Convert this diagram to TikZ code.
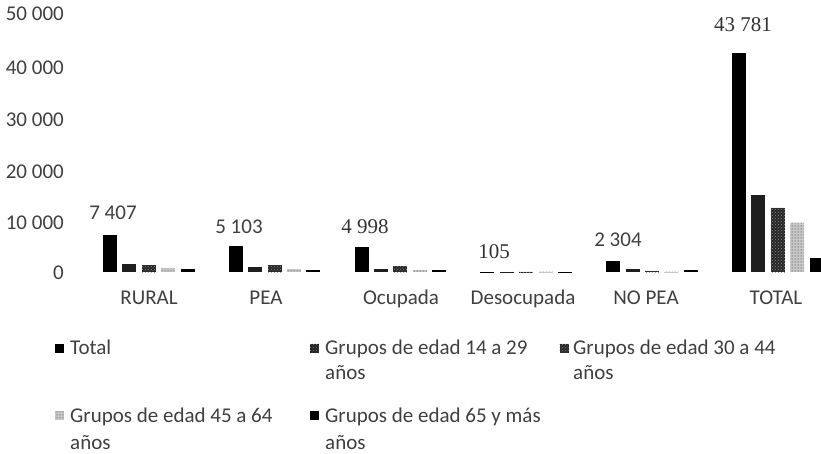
\documentclass[tikz,border=0pt]{standalone}
\usepackage{fontspec}
\setmainfont{Carlito}
\newfontfamily\serifnum{Liberation Serif}
\usetikzlibrary{patterns}
\begin{document}
\begin{tikzpicture}[x=1pt,y=-1pt,
  txt/.style={font=\fontsize{21}{25}\selectfont, inner sep=0pt, text=black!75},
  stxt/.style={font=\fontsize{21}{25}\selectfont\serifnum, inner sep=0pt, text=black!80},
  ylab/.style={txt, anchor=base east},
  cat/.style={txt, anchor=base},
  dlab/.style={txt, anchor=base},
  sdlab/.style={stxt, anchor=base},
  leg/.style={txt, anchor=base west},
  bT/.style={fill=black},
  bA/.style={fill=black!88},
  bB/.style={preaction={fill=black!85}, pattern=crosshatch dots, pattern color=black!45},
  bC/.style={preaction={fill=black!22}, pattern=dots, pattern color=black!85},
  bD/.style={fill=black},
  mk/.style={minimum size=9pt, inner sep=0pt, draw=none}
]
\useasboundingbox (0,0) rectangle (821,454);
\fill[white] (0,0) rectangle (821,454);

% y axis labels
\node[ylab] (y50) at (64,20.5) {50 000};
\node[ylab] (y40) at (64,74.5) {40 000};
\node[ylab] (y30) at (64,126.5) {30 000};
\node[ylab] (y20) at (64,178.5) {20 000};
\node[ylab] (y10) at (64,229.5) {10 000};
\node[ylab] (y0)  at (64,279.5) {0};

% bars
\foreach \i/\a/\b/\c/\d/\e in {0/37/8/7/4/3, 1/25.5/5/7/3/2, 2/25/3/6/2/2,
   3/0.3/0.2/0.2/0.1/0.1, 4/11.5/3.5/1.5/0.5/2, 5/219/77/64/49/14} {
  \pgfmathsetmacro\gx{103+125.8*\i}
  \fill[bT] (\gx,272) rectangle ++(14,-\a);
  \fill[bA] (\gx+19.4,272) rectangle ++(14,-\b);
  \fill[bB] (\gx+38.8,272) rectangle ++(14,-\c);
  \fill[bC] (\gx+58.2,272) rectangle ++(14,-\d);
  \fill[bD] (\gx+77.6,272) rectangle ++(14,-\e);
}

% data labels
\node[dlab]  (d1) at (113,219.5) {7 407};
\node[dlab]  (d2) at (239,233.5) {5 103};
\node[sdlab] (d3) at (365,233.5) {4 998};
\node[sdlab] (d4) at (494,258.5) {105};
\node[dlab]  (d5) at (618,246.5) {2 304};
\node[sdlab] (d6) at (743,31.5) {43 781};

% category labels
\node[cat] (c1) at (149,304) {RURAL};
\node[cat] (c2) at (266,304) {PEA};
\node[cat] (c3) at (401,304) {Ocupada};
\node[cat] (c4) at (523,304) {Desocupada};
\node[cat] (c5) at (646,304) {NO PEA};
\node[cat] (c6) at (776,304) {TOTAL};

% legend
\node[mk, fill=black] (m1) at (59,348) {};
\node[leg] (l1) at (70,354) {Total};
\node[mk, preaction={fill=black!88}, pattern=crosshatch dots, pattern color=black!50] (m2) at (314,348) {};
\node[leg] (l2a) at (325,354) {Grupos de edad 14 a 29};
\node[leg] (l2b) at (325,379) {años};
\node[mk, preaction={fill=black!85}, pattern=crosshatch dots, pattern color=black!45] (m3) at (564,348) {};
\node[leg] (l3a) at (573,354) {Grupos de edad 30 a 44};
\node[leg] (l3b) at (573,379) {años};
\node[mk, preaction={fill=black!22}, pattern=dots, pattern color=black!85] (m4) at (59,415) {};
\node[leg] (l4a) at (70,422) {Grupos de edad 45 a 64};
\node[leg] (l4b) at (70,449) {años};
\node[mk, fill=black] (m5) at (314,415) {};
\node[leg] (l5a) at (325,422) {Grupos de edad 65 y más};
\node[leg] (l5b) at (325,449) {años};
\end{tikzpicture}
\end{document}
